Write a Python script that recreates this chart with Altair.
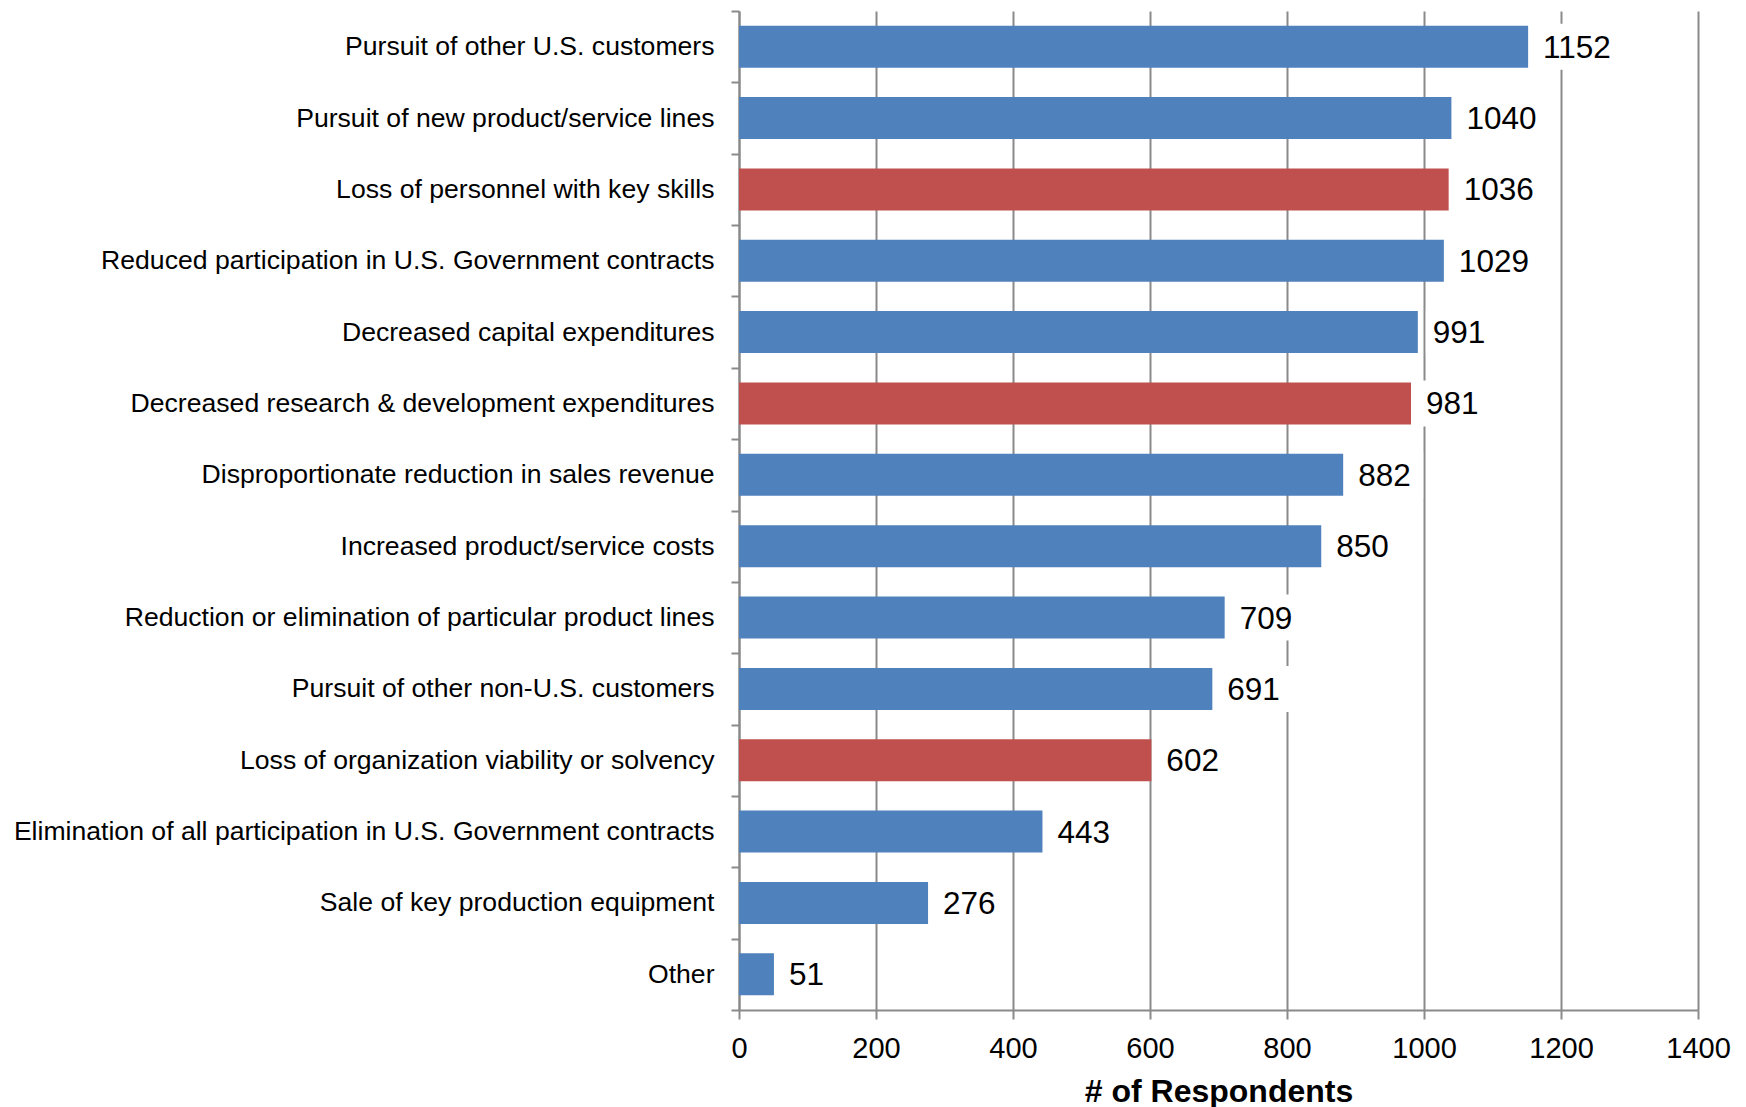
import altair as alt
import pandas as pd

# Survey responses: consequences reported by organisations (# of respondents)
categories = [
    "Pursuit of other U.S. customers",
    "Pursuit of new product/service lines",
    "Loss of personnel with key skills",
    "Reduced participation in U.S. Government contracts",
    "Decreased capital expenditures",
    "Decreased research & development expenditures",
    "Disproportionate reduction in sales revenue",
    "Increased product/service costs",
    "Reduction or elimination of particular product lines",
    "Pursuit of other non-U.S. customers",
    "Loss of organization viability or solvency",
    "Elimination of all participation in U.S. Government contracts",
    "Sale of key production equipment",
    "Other",
]
respondents = [1152, 1040, 1036, 1029, 991, 981, 882, 850, 709, 691, 602, 443, 276, 51]
highlighted = [
    "Loss of personnel with key skills",
    "Decreased research & development expenditures",
    "Loss of organization viability or solvency",
]
x_ticks = [0, 200, 400, 600, 800, 1000, 1200, 1400]

df = pd.DataFrame({
    "factor": categories,
    "respondents": respondents,
    "group": ["highlight" if c in highlighted else "base" for c in categories],
})

FONT = "Liberation Sans"
GREY = "#8a8a8a"
LABEL_SIZE = 31.5

x_enc = alt.X(
    "respondents:Q",
    scale=alt.Scale(domain=[0, 1400], nice=False),
    axis=alt.Axis(
        values=x_ticks,
        format="d",
        labelFlush=False,
        title="# of Respondents",
        titleFont=FONT,
        titleFontSize=32,
        titleFontWeight="bold",
        titleColor="black",
        titleBaseline="top",
        titleY=66,
        labelFont=FONT,
        labelFontSize=29,
        labelColor="black",
        labelPadding=15,
        tickSize=9,
        tickColor=GREY,
        tickWidth=2,
        domainColor=GREY,
        domainWidth=2,
        grid=True,
        gridColor=GREY,
        gridWidth=2,
    ),
)

y_enc = alt.Y(
    "factor:N",
    sort=categories,
    title=None,
    scale=alt.Scale(paddingInner=0, paddingOuter=0),
    axis=alt.Axis(
        labelFont=FONT,
        labelFontSize=26.6,
        labelColor="black",
        labelLimit=900,
        labelPadding=17,
        tickSize=8,
        tickColor=GREY,
        tickWidth=2,
        tickBand="extent",
        domainColor=GREY,
        domainWidth=2,
    ),
)

base = alt.Chart(df).encode(x=x_enc, y=y_enc)

bars = base.mark_bar(height=42).encode(
    color=alt.Color(
        "group:N",
        scale=alt.Scale(domain=["base", "highlight"], range=["#4F81BD", "#C0504D"]),
        legend=None,
    )
)

# white label boxes (one layer per digit count) so gridlines stop behind the values
boxes = []
for n_digits, box_w in [(2, 54), (3, 72), (4, 90)]:
    boxes.append(
        alt.Chart(df)
        .transform_filter(f"length(toString(datum.respondents)) == {n_digits}")
        .mark_bar(height=46, color="white", xOffset=8, x2Offset=8 + box_w)
        .encode(x=x_enc, x2="respondents:Q", y=y_enc)
    )

labels = base.mark_text(
    align="left", baseline="middle", dx=15, dy=2, fontSize=LABEL_SIZE, font=FONT,
    color="black",
).encode(text=alt.Text("respondents:Q"))

chart = (
    alt.layer(bars, *boxes, labels)
    .properties(
        width=959,
        height=999,
        autosize=alt.AutoSizeParams(type="none"),
        padding={"left": 739, "top": 11, "right": 48, "bottom": 97},
        background="white",
    )
    .configure_view(stroke=None)
)

chart.save("out.html", embed_options={"renderer": "svg", "actions": False})
